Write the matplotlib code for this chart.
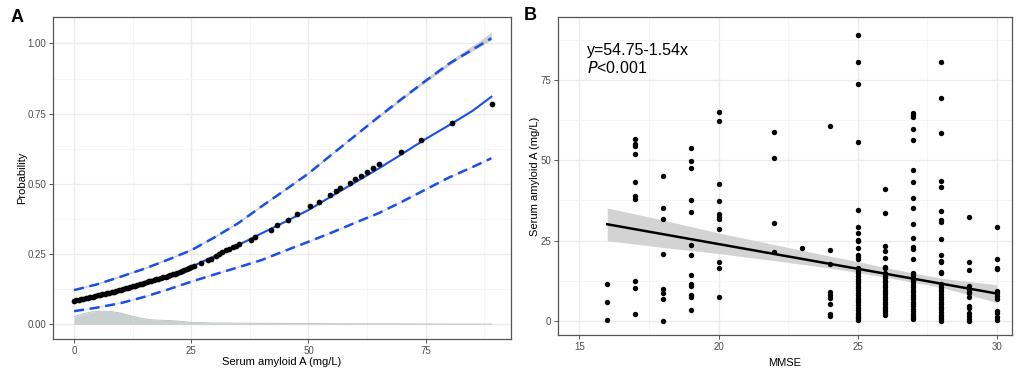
import matplotlib
matplotlib.use("Agg")
import matplotlib.pyplot as plt
import numpy as np

plt.rcParams['font.family'] = ['Liberation Sans', 'DejaVu Sans']

# ---------------- Panel A data ----------------
curve_x = [0, 5, 10, 15, 20, 25, 30, 35, 40, 45, 50, 55, 60, 65, 70, 75, 80, 85, 89]
fit_y = [0.084, 0.099, 0.118, 0.142, 0.170, 0.205, 0.243, 0.282, 0.324, 0.365, 0.407,
         0.457, 0.506, 0.555, 0.607, 0.660, 0.709, 0.760, 0.810]
upper_y = [0.122, 0.143, 0.170, 0.198, 0.230, 0.264, 0.310, 0.360, 0.420, 0.478, 0.537,
           0.605, 0.672, 0.739, 0.804, 0.867, 0.928, 0.978, 1.018]
lower_y = [0.047, 0.060, 0.076, 0.098, 0.124, 0.152, 0.178, 0.203, 0.229, 0.262, 0.294,
           0.327, 0.362, 0.396, 0.437, 0.480, 0.523, 0.560, 0.591]
band_x = [65, 75, 82, 86, 89]
band_lo = [0.737, 0.862, 0.945, 0.983, 1.012]
band_hi = [0.741, 0.874, 0.960, 1.003, 1.040]

dots_x = [0, 0.5, 1, 1.5, 2, 2.5, 3, 3.5, 4, 4.5, 5, 5.5, 6, 6.5, 7, 7.5, 8, 8.5, 9, 9.5,
          10, 10.5, 11, 11.5, 12, 12.5, 13, 13.5, 14, 14.5, 15, 15.5, 16, 16.5, 17, 17.5,
          18, 18.5, 19, 19.5, 20, 20.5, 21, 21.5, 22, 22.5, 23, 23.5, 24,
          24.5, 25, 25.6, 27, 28.6, 29.1, 30.2, 30.9, 31.6, 32.4, 33.1, 33.8, 34.5, 35.2,
          37.7, 38.6, 41.9, 43.3, 45.6, 47.6, 50.4, 52.2, 54.5, 55.8, 56.7, 58.8, 59.9,
          61.2, 62.5, 63.7, 65.1, 69.7, 74.1, 80.7, 89.1]
dots_y = [0.085, 0.087, 0.088, 0.090, 0.092, 0.094, 0.095, 0.097, 0.099, 0.101, 0.103,
          0.105, 0.107, 0.109, 0.111, 0.113, 0.115, 0.117, 0.119, 0.122, 0.124, 0.126,
          0.128, 0.131, 0.133, 0.136, 0.138, 0.140, 0.143, 0.145, 0.148, 0.150, 0.153,
          0.155, 0.158, 0.160, 0.163, 0.165, 0.168, 0.170, 0.173, 0.176, 0.179, 0.181,
          0.184, 0.187, 0.190, 0.193, 0.196,
          0.202, 0.205, 0.209, 0.217, 0.229, 0.234, 0.243, 0.250, 0.259, 0.265, 0.270,
          0.276, 0.280, 0.285, 0.300, 0.310, 0.335, 0.353, 0.371, 0.393, 0.421, 0.436,
          0.460, 0.476, 0.484, 0.504, 0.516, 0.529, 0.543, 0.555, 0.570, 0.614, 0.656,
          0.715, 0.783]

dens_x = [0, 2, 4, 6, 8, 10, 12, 14, 16, 18, 20, 22, 25, 30, 40, 50, 60, 70, 80, 89]
dens_y = [0.028, 0.038, 0.045, 0.047, 0.046, 0.040, 0.031, 0.023, 0.017, 0.015, 0.014,
          0.012, 0.007, 0.005, 0.004, 0.003, 0.002, 0.002, 0.001, 0.001]

# ---------------- Panel B data ----------------
mmse_groups = {
    16: [11.5, 5.8, 0.3],
    17: [56.6, 55.2, 54.5, 52, 43.2, 38.9, 38, 12.6, 10.4, 2.1],
    18: [45.2, 35.2, 31.7, 21, 9.9, 8.6, 6.8, 0],
    19: [53.9, 49.9, 47.6, 37.7, 33.8, 23.5, 20.5, 14.2, 11.6, 10.9, 8, 7.6, 3.4],
    20: [65, 62.2, 42.6, 37.4, 33.2, 32.5, 31.7, 28.5, 18.4, 16.4, 7.5],
    22: [58.8, 50.6, 30.6, 21.6],
    23: [22.6],
    24: [60.8, 22.1, 17.6, 9, 8.1, 7.3, 5.3, 2.1, 1.6],
    25: [89.1, 80.5, 73.8, 55.8, 34.6, 29.1, 27.3, 25.3, 24.8, 22.6, 20.5, 19.8, 19.2,
         16.5, 15.5, 14.8, 14, 13.2, 12.5, 11.8, 11, 10.3, 9.6, 8.8, 8, 7.3, 6.5, 5.8,
         5, 4.2, 3.5, 2.6, 2, 1.4, 0.8, 0.3],
    26: [41.2, 33.5, 23.3, 21.8, 19.5, 16.9, 16.6, 14.8, 14, 13.3, 12.6, 12, 11.2, 10.5,
         9.8, 9, 8.3, 7.5, 6.8, 6, 5.3, 4.5, 3.8, 3, 2.4, 1.8],
    27: [64.8, 64.1, 63.4, 59.6, 56.4, 47.1, 43.2, 38.3, 35.2, 30.2, 25.8, 23.1, 22.5,
         19.4, 14.8, 14.3, 13.5, 12.8, 12, 11.3, 10.5, 9.7, 9, 8.2, 7.5, 6.8, 6, 5.3,
         4.6, 3.8, 3.1, 2.3, 1.6, 1.0, 0.6],
    28: [80.5, 69.3, 58.4, 43.7, 41.8, 34.3, 31.4, 30.9, 25.4, 20.5, 18.7, 18.4, 15.4,
         14.8, 11.5, 10.7, 9.9, 9.2, 8.4, 7.6, 6.8, 6, 5.2, 4.4, 3.6, 2.8, 2, 1.3, 0.6,
         0.1],
    29: [32.4, 18.4, 16, 11, 10, 9.1, 8.6, 7.6, 4.7, 3.9, 2.4, 1.6, 0.6, 0],
    30: [29.1, 19.4, 16.6, 16.1, 9.4, 8.6, 7.8, 7, 3.1, 2.4, 1.1, 0.3],
}
reg_x = [16, 30]
reg_y = [30.1, 8.55]
ci_x = [16, 18, 20, 22, 24, 25, 26, 28, 30]
ci_lo = [25.0, 22.9, 21.0, 18.8, 16.5, 15.1, 13.6, 10.5, 5.8]
ci_hi = [35.2, 31.4, 27.4, 23.8, 20.2, 18.5, 16.6, 13.3, 11.3]

fig = plt.figure(figsize=(10.21, 3.69), dpi=100)
axA = fig.add_axes([0.0519, 0.0813, 0.4486, 0.8727])
axB = fig.add_axes([0.5465, 0.0921, 0.4447, 0.8619])

def style(ax):
    ax.set_facecolor('white')
    ax.grid(True, which='major', color='#ebebeb', lw=1.0, zorder=0)
    ax.grid(True, which='minor', color='#f4f4f4', lw=0.6, zorder=0)
    for s in ax.spines.values():
        s.set_color('#555555')
        s.set_linewidth(0.9)
    ax.tick_params(which='major', length=3, width=0.7, color='#555555',
                   labelsize=7, labelcolor='#4d4d4d', pad=2)
    ax.tick_params(which='minor', length=0)
    ax.set_axisbelow(True)

# Panel A
style(axA)
axA.fill_between(dens_x, 0, dens_y, color='#c9d0d0', lw=0, zorder=1)
axA.plot(dens_x, dens_y, color='#b8c0c0', lw=0.6, zorder=1)
axA.fill_between(band_x, band_lo, band_hi, color='#d0d0d0', lw=0, zorder=2)
axA.plot(curve_x, upper_y, color='#cccccc', lw=1.0, zorder=2)
axA.plot(curve_x, lower_y, color='#dddddd', lw=0.9, zorder=2)
axA.plot(curve_x, upper_y, color='#1a4fe8', lw=1.8, ls=(0, (4, 2.3)), zorder=3)
axA.plot(curve_x, lower_y, color='#1a4fe8', lw=1.8, ls=(0, (4, 2.3)), zorder=3)
axA.plot(curve_x, fit_y, color='#1a4fe8', lw=1.5, zorder=3)
axA.scatter(dots_x, dots_y, s=17, color='black', lw=0, zorder=4)
axA.set_xlim(-4.5, 93.2)
axA.set_ylim(-0.052, 1.094)
axA.set_xticks([0, 25, 50, 75])
axA.set_xticks([12.5, 37.5, 62.5, 87.5], minor=True)
axA.set_yticks([0, 0.25, 0.5, 0.75, 1.0])
axA.set_yticklabels(['0.00', '0.25', '0.50', '0.75', '1.00'])
axA.set_yticks([0.125, 0.375, 0.625, 0.875], minor=True)
axA.set_xlabel('Serum amyloid A (mg/L)', fontsize=8, labelpad=1)
axA.set_ylabel('Probability', fontsize=8, labelpad=0)

# Panel B
style(axB)
axB.fill_between(ci_x, ci_lo, ci_hi, color='#d3d3d3', lw=0, zorder=2)
for m, vals in mmse_groups.items():
    axB.scatter([m] * len(vals), vals, s=15, color='black', lw=0, zorder=3)
axB.plot(reg_x, reg_y, color='black', lw=1.8, zorder=4)
axB.set_xlim(14.23, 30.55)
axB.set_ylim(-4.36, 94.6)
axB.set_xticks([15, 20, 25, 30])
axB.set_xticks([17.5, 22.5, 27.5], minor=True)
axB.set_yticks([0, 25, 50, 75])
axB.set_yticks([12.5, 37.5, 62.5, 87.5], minor=True)
axB.set_xlabel('MMSE', fontsize=8, labelpad=4)
axB.set_ylabel('Serum amyloid A (mg/L)', fontsize=8, labelpad=0)
axB.text(0.064, 0.896, 'y=54.75-1.54x', transform=axB.transAxes, fontsize=11.5,
         va='center', ha='left')
axB.text(0.064, 0.838, r'$\it{P}$<0.001', transform=axB.transAxes, fontsize=11.5,
         va='center', ha='left')

fig.text(17 / 1021, 1 - 17 / 369, 'A', fontsize=13, fontweight='bold', ha='center', va='center')
fig.text(530 / 1021, 1 - 16 / 369, 'B', fontsize=13, fontweight='bold', ha='center', va='center')

fig.savefig('out.png', dpi=100, facecolor='white')
